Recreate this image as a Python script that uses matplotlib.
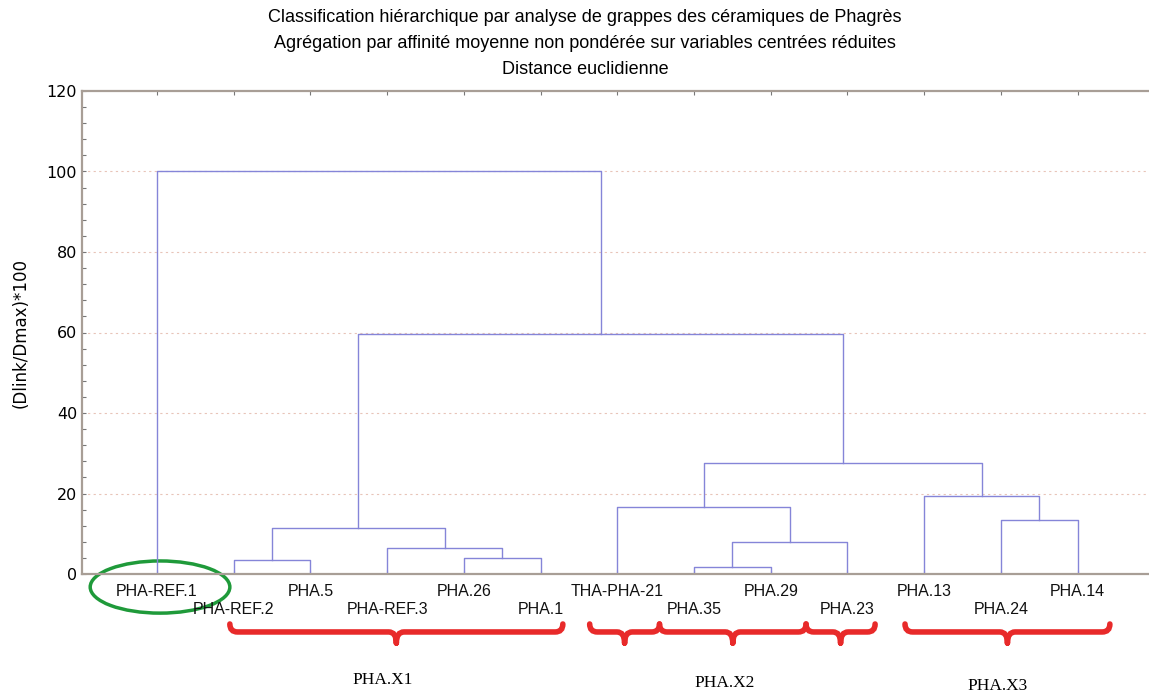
import matplotlib.pyplot as plt
import matplotlib.transforms as mt
from matplotlib.path import Path
from matplotlib.patches import PathPatch, Ellipse

# leaves in dendrogram order
leaves = ["PHA-REF.1", "PHA-REF.2", "PHA.5", "PHA-REF.3", "PHA.26", "PHA.1",
          "THA-PHA-21", "PHA.35", "PHA.29", "PHA.23", "PHA.13", "PHA.24", "PHA.14"]

# merges: (left, right, height); ints are leaf indexes, strings are earlier merges
merge_names = ["A", "B", "C", "D", "E", "F", "G", "H", "I", "J", "K", "L"]
merge_left = [7, 1, 4, 3, "A", "B", 11, 6, 10, "H", "F", 0]
merge_right = [8, 2, 5, "C", 9, "D", 12, "E", "G", "I", "J", "K"]
merge_height = [1.8, 3.5, 4.0, 6.45, 7.9, 11.4, 13.5, 16.7, 19.3, 27.5, 59.7, 100.0]

# cluster groups drawn under the labels
brace_spans = [(1.95, 6.29), (6.64, 7.55), (7.55, 9.46), (9.46, 10.36), (10.75, 13.42)]
group_names = ["PHA.X1", "PHA.X2", "PHA.X3"]
group_x = [3.94, 8.40, 11.96]
group_y = [-0.219, -0.226, -0.232]

fig = plt.figure(figsize=(11.49, 6.98), dpi=100)
ax = fig.add_axes([82 / 1149, 124 / 698, 1 - 82 / 1149, 483 / 698])
plt.rcParams['font.family'] = ['Liberation Sans', 'DejaVu Sans']

line_color = "#8585d8"
pos = {}
hgt = {}
for i in range(len(leaves)):
    pos[i] = i + 1
    hgt[i] = 0.0
for name, l, r, h in zip(merge_names, merge_left, merge_right, merge_height):
    xl, xr = pos[l], pos[r]
    ax.plot([xl, xl, xr, xr], [hgt[l], h, h, hgt[r]], color=line_color, lw=1.0)
    pos[name] = (xl + xr) / 2
    hgt[name] = h

ax.set_xlim(0.023, 13.93)
ax.set_ylim(0, 120)
ax.set_yticks(range(0, 121, 20))
ax.set_yticks(range(0, 121, 4), minor=True)
ax.set_xticks(range(1, len(leaves) + 1))
ax.set_xticklabels([])
ax.tick_params(axis="y", which="both", direction="in", labelsize=11.5, colors="#777777",
               labelcolor="black", length=3, width=0.8)
ax.tick_params(axis="x", which="both", direction="in", top=True, length=3, width=0.8,
               colors="#777777")
for y in range(20, 101, 20):
    ax.axhline(y, color="#e8c4b8", lw=0.8, ls=(0, (2, 3)), zorder=0)
for s in ["left", "top", "bottom"]:
    ax.spines[s].set_color("#a89e96")
    ax.spines[s].set_linewidth(1.6)
ax.spines["right"].set_visible(False)
ax.set_ylabel("(Dlink/Dmax)*100", fontsize=12, labelpad=12)

trans = mt.blended_transform_factory(ax.transData, ax.transAxes)
for i, lab in enumerate(leaves):
    ty = -0.037 if i % 2 == 0 else -0.074
    ax.text(i + 1, ty, lab, transform=trans, ha="center", va="center", fontsize=11.5,
            color="#111111")

# green ellipse around the reference sample
ax.add_patch(Ellipse((1.04, -0.027), 1.82, 0.108, transform=trans, fill=False,
                     edgecolor="#1f9a3a", lw=2.5, clip_on=False))

# red braces
y_top, y_mid, y_tip, r = -0.1035, -0.120, -0.143, 0.1
for x0, x1 in brace_spans:
    xm = (x0 + x1) / 2
    verts = [(x0, y_top), (x0, y_mid), (x0 + r, y_mid), (xm - r, y_mid), (xm, y_mid), (xm, y_tip),
             (xm, y_tip), (xm, y_mid), (xm + r, y_mid), (x1 - r, y_mid), (x1, y_mid), (x1, y_top)]
    codes = [Path.MOVETO, Path.CURVE3, Path.CURVE3, Path.LINETO, Path.CURVE3, Path.CURVE3,
             Path.MOVETO, Path.CURVE3, Path.CURVE3, Path.LINETO, Path.CURVE3, Path.CURVE3]
    ax.add_patch(PathPatch(Path(verts, codes), transform=trans, fill=False,
                           edgecolor="#e82a2a", lw=4, capstyle="round", clip_on=False))

for name, gx, gy in zip(group_names, group_x, group_y):
    ax.text(gx, gy, name, transform=trans, ha="center", va="center", fontsize=12.5,
            family="Liberation Serif")

titles = ["Classification hiérarchique par analyse de grappes des céramiques de Phagrès",
          "Agrégation par affinité moyenne non pondérée sur variables centrées réduites",
          "Distance euclidienne"]
for k, t in enumerate(titles):
    fig.text(585 / 1149, 1 - (18 + 25.5 * k) / 698, t, ha="center", va="center", fontsize=13)

plt.savefig("out.png", dpi=100)
